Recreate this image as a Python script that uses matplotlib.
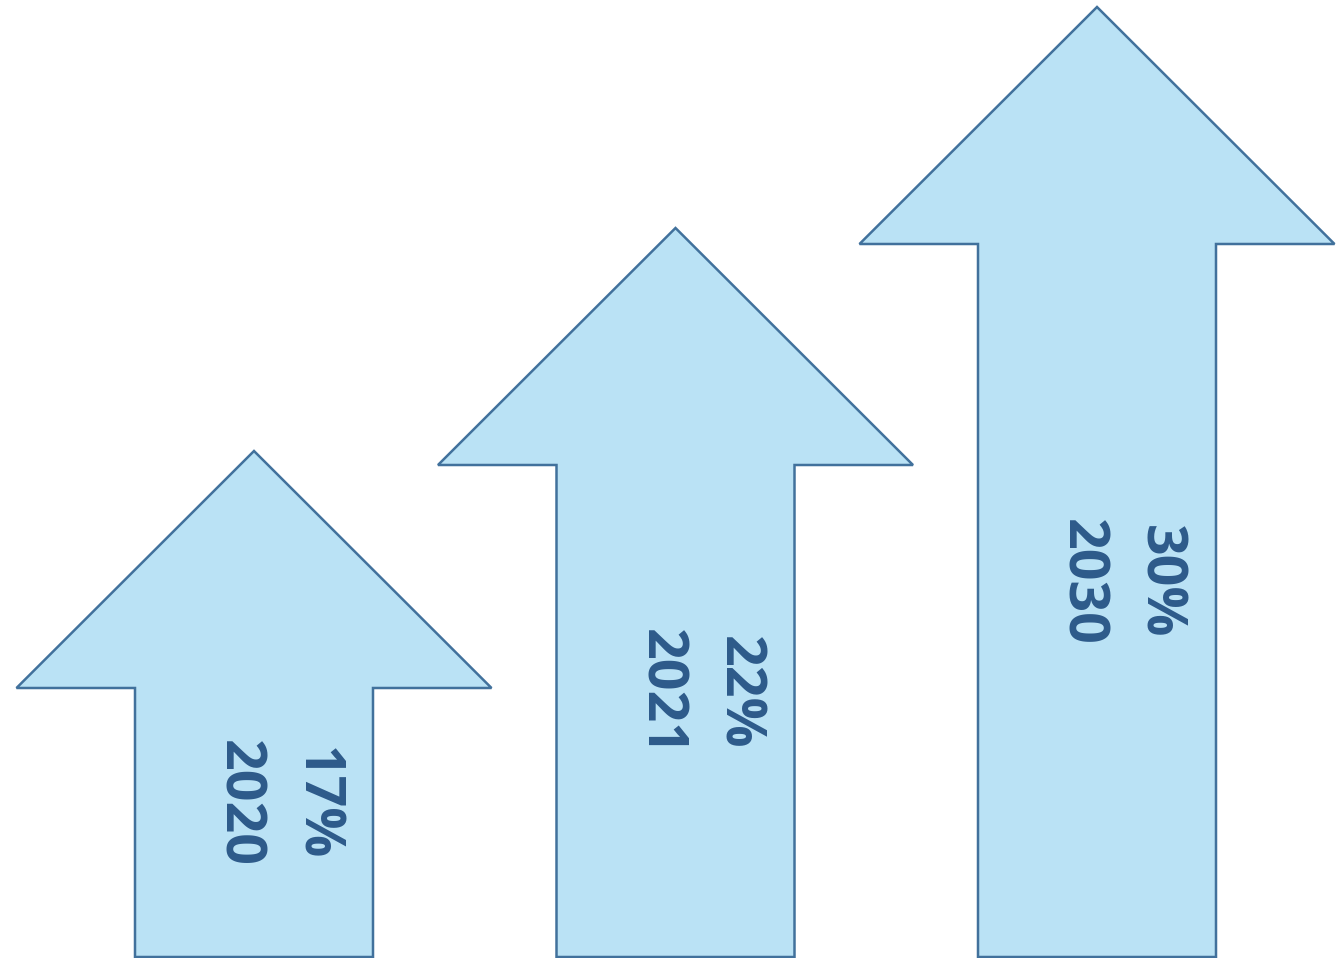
import matplotlib.pyplot as plt
from matplotlib.patches import Polygon

# data
years = ["2020", "2021", "2030"]
shares = ["17%", "22%", "30%"]
arrow_tops = [507, 730, 951]   # arrow tip height (px units of the canvas)

FILL = "#BAE2F5"
EDGE = "#41719C"
TEXT = "#2D5A8A"

W, H = 1337, 958
fig = plt.figure(figsize=(W / 100, H / 100), dpi=100)
ax = fig.add_axes([0, 0, 1, 1])
ax.set_xlim(0, W)
ax.set_ylim(0, H)
ax.axis("off")

head_half = 237.5
shaft_half = 119
head_h = 237
base = 1
first_x = 254
step = 421.5

for i, (yr, pct, top) in enumerate(zip(years, shares, arrow_tops)):
    cx = first_x + i * step
    hb = top - head_h
    pts = [
        (cx - shaft_half, base),
        (cx - shaft_half, hb),
        (cx - head_half, hb),
        (cx, top),
        (cx + head_half, hb),
        (cx + shaft_half, hb),
        (cx + shaft_half, base),
    ]
    ax.add_patch(Polygon(pts, closed=True, facecolor=FILL, edgecolor=EDGE,
                         linewidth=1.8, joinstyle="miter", clip_on=False))

    # label sits a bit below the middle of the arrow
    ty = (top + base) / 2 - 100
    ax.text(cx + 23, ty, f"{pct}\n{yr}", rotation=-90, ha="center", va="center",
            fontsize=40, fontweight="bold", family=["Open Sans", "DejaVu Sans"],
            color=TEXT, linespacing=1.55, multialignment="center")

fig.savefig("out.png", dpi=100)
